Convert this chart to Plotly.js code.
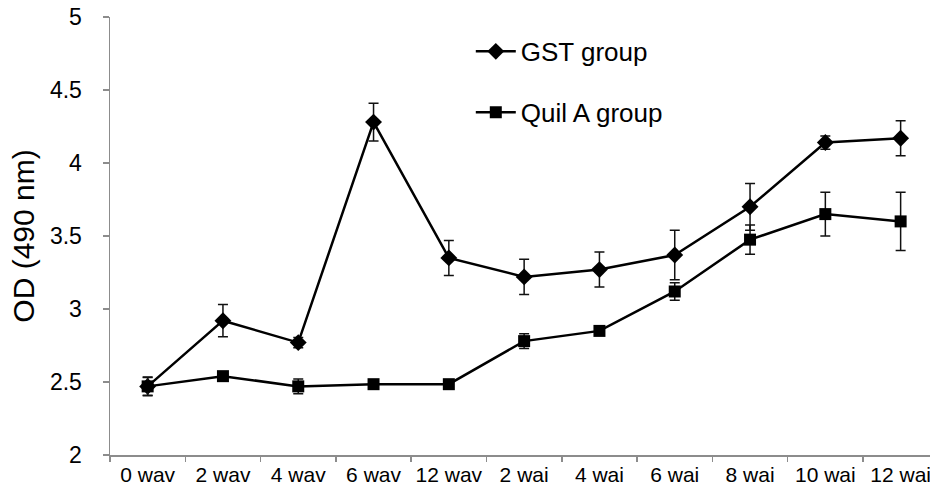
<!DOCTYPE html>
<html>
<head>
<meta charset="utf-8">
<script src="https://cdn.plot.ly/plotly-3.0.1.min.js"></script>
<style>html,body{margin:0;padding:0;background:#fff;}#chart{width:930px;height:495px;}</style>
</head>
<body>
<div id="chart"></div>
<script>
const categories = ["0 wav","2 wav","4 wav","6 wav","12 wav","2 wai","4 wai","6 wai","8 wai","10 wai","12 wai"];
const gstValues = [2.47, 2.92, 2.77, 4.28, 3.35, 3.22, 3.27, 3.37, 3.70, 4.14, 4.17];
const gstErrors = [0.06, 0.11, 0.035, 0.13, 0.12, 0.12, 0.12, 0.17, 0.16, 0.045, 0.12];
const quilValues = [2.47, 2.54, 2.47, 2.485, 2.485, 2.78, 2.85, 3.12, 3.475, 3.65, 3.60];
const quilErrors = [0.065, 0.03, 0.05, 0.01, 0.01, 0.05, 0.02, 0.06, 0.1, 0.15, 0.2];
const yTickVals = [2, 2.5, 3, 3.5, 4, 4.5, 5];
const yTickText = ["2", "2.5", "3", "3.5", "4", "4.5", "5"];

const font = "Liberation Sans, Arial, sans-serif";

const traces = [
  {
    x: categories, y: gstValues, name: "GST group", type: "scatter", mode: "lines+markers",
    legendgroup: "g1",
    line: {color: "#000", width: 2.5},
    marker: {symbol: "diamond", size: 13, color: "#000"},
    error_y: {type: "data", array: gstErrors, visible: true, color: "#111", thickness: 1.5, width: 5}
  },
  {
    x: categories, y: quilValues, name: "Quil A group", type: "scatter", mode: "lines+markers",
    legendgroup: "g2",
    line: {color: "#000", width: 2.5},
    marker: {symbol: "square", size: 12, color: "#000"},
    error_y: {type: "data", array: quilErrors, visible: true, color: "#111", thickness: 1.5, width: 5}
  }
];

const layout = {
  width: 930, height: 495,
  margin: {l: 110, r: 0, t: 17, b: 40},
  paper_bgcolor: "#fff", plot_bgcolor: "#fff",
  font: {family: font, color: "#000"},
  showlegend: true,
  legend: {
    x: 0.44, y: 0.975, xanchor: "left", yanchor: "top",
    font: {size: 26, family: font, color: "#000"},
    bgcolor: "rgba(0,0,0,0)", traceorder: "grouped", tracegroupgap: 24,
    itemwidth: 40
  },
  xaxis: {
    type: "category",
    range: [-0.5, 10.39],
    showgrid: false, zeroline: false,
    showline: true, linecolor: "#8c8c8c", linewidth: 1.5,
    ticks: "outside", tickson: "boundaries", ticklen: 5, tickcolor: "#8c8c8c", tickwidth: 1.5,
    tickangle: 0,
    tickfont: {size: 21, family: font, color: "#000"},
    fixedrange: true
  },
  yaxis: {
    range: [2, 5],
    tickvals: yTickVals, ticktext: yTickText,
    showgrid: false, zeroline: false,
    showline: true, linecolor: "#8c8c8c", linewidth: 1.5,
    ticks: "outside", ticklen: 6, tickcolor: "#8c8c8c", tickwidth: 1.5,
    tickfont: {size: 23, family: font, color: "#000"},
    ticklabelstandoff: 16,
    title: {text: "OD (490 nm)", font: {size: 30, family: font, color: "#000"}, standoff: 6},
    fixedrange: true
  }
};

Plotly.newPlot("chart", traces, layout, {displayModeBar: false, staticPlot: true});
</script>
</body>
</html>
